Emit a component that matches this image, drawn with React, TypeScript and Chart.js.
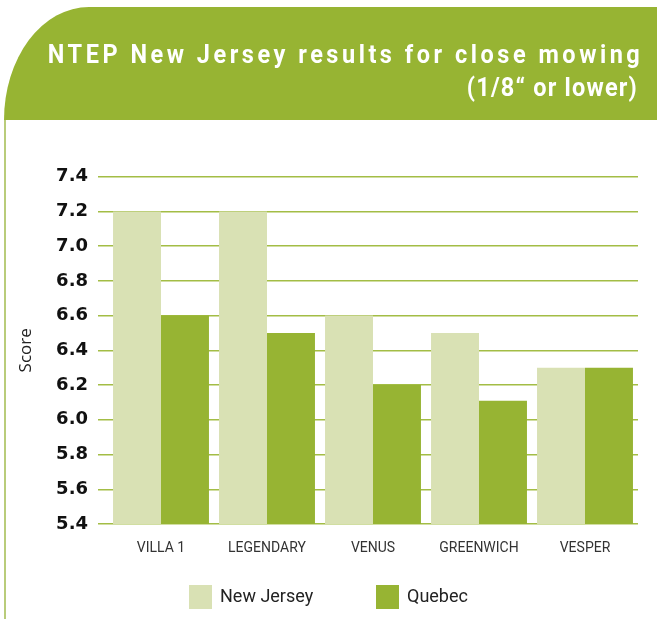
import React, { useEffect, useRef } from "react";
import { Chart, registerables } from "chart.js";

Chart.register(...registerables);

const categories = ["VILLA 1", "LEGENDARY", "VENUS", "GREENWICH", "VESPER"];
const seriesNames = ["New Jersey", "Quebec"];
const newJersey = [7.2, 7.2, 6.6, 6.5, 6.3];
const quebec = [6.6, 6.5, 6.2, 6.11, 6.3];
const yMin = 5.4;
const yMax = 7.4;
const yStep = 0.2;
const titleLine1 = "NTEP New Jersey results for close mowing";
const titleLine2 = "(1/8“ or lower)";
const axisTitle = "Score";

const GREEN = "#97b433";
const LIGHT = "#d9e1b4";
const seriesColors = [LIGHT, GREEN];

const TITLE_SCALE = 0.94;

function spacingFor(text: string, font: string, target: number): number {
  try {
    const ctx = document.createElement("canvas").getContext("2d");
    if (!ctx) return 2;
    ctx.font = font;
    const w = ctx.measureText(text).width;
    return (target - w) / (text.length - 1);
  } catch (e) {
    return 2;
  }
}

function TitleLine(props: { text: string; top: number; right: number; width: number }) {
  const font = `bold 25px Roboto`;
  const s = spacingFor(props.text, font, props.width / TITLE_SCALE);
  return (
    <div
      style={{
        position: "absolute",
        top: props.top,
        right: props.right,
        font,
        lineHeight: "24px",
        color: "#ffffff",
        whiteSpace: "nowrap",
        textAlign: "right",
        transform: `scaleX(${TITLE_SCALE})`,
        transformOrigin: "right center",
      }}
    >
      <span style={{ letterSpacing: `${s}px`, marginRight: `${-s}px` }}>{props.text}</span>
    </div>
  );
}

const legendLefts = [189, 376];

export default function App() {
  const ref = useRef<HTMLCanvasElement | null>(null);

  useEffect(() => {
    if (!ref.current) return;
    const chart = new Chart(ref.current, {
      type: "bar",
      data: {
        labels: categories,
        datasets: [
          {
            label: seriesNames[0],
            data: newJersey,
            backgroundColor: seriesColors[0],
            borderWidth: 0,
            categoryPercentage: 0.905,
            barPercentage: 1,
          },
          {
            label: seriesNames[1],
            data: quebec,
            backgroundColor: seriesColors[1],
            borderWidth: 0,
            categoryPercentage: 0.905,
            barPercentage: 1,
          },
        ],
      },
      options: {
        responsive: false,
        animation: false,
        layout: { padding: { left: 16, right: 19, top: 176.7, bottom: 54.2 } },
        plugins: {
          tooltip: { enabled: false },
          title: { display: false },
          legend: { display: false },
        },
        scales: {
          x: {
            grid: { display: false },
            border: { display: false },
            ticks: {
              color: "#333333",
              font: { family: "Roboto", size: 14 },
              padding: 8,
              maxRotation: 0,
            },
          },
          y: {
            min: yMin,
            max: yMax,
            ticks: {
              stepSize: yStep,
              color: "#111111",
              font: { family: "'DejaVu Sans'", size: 18, weight: "bold" },
              padding: 10,
              callback: (v: any) => Number(v).toFixed(1),
            },
            grid: { color: "#a3bd45", lineWidth: 1.5, tickLength: 10, drawTicks: true },
            border: { display: false },
            title: {
              display: true,
              text: axisTitle,
              color: "#222222",
              font: { family: "'Open Sans'", size: 17 },
              padding: 0,
            },
            afterFit: (s: any) => {
              s.width = 92;
            },
          },
        },
      },
    });
    return () => chart.destroy();
  }, []);

  return (
    <div
      style={{
        position: "fixed",
        left: 0,
        top: 0,
        width: 657,
        height: 619,
        background: "#ffffff",
        overflow: "hidden",
      }}
    >
      <canvas ref={ref} width={657} height={619} style={{ position: "absolute", left: 0, top: 0, width: 657, height: 619 }} />
      <div
        style={{
          position: "absolute",
          left: 4,
          top: 7,
          width: 653,
          height: 113,
          background: GREEN,
          borderTopLeftRadius: "85px 113px",
        }}
      />
      <div style={{ position: "absolute", left: 4, top: 120, width: 1.5, height: 499, background: "#b9cc7a" }} />
      <TitleLine text={titleLine1} top={43} right={17} width={592} />
      <TitleLine text={titleLine2} top={76} right={20} width={170} />
      {seriesNames.map((name, i) => (
        <div key={name}>
          <div
            style={{
              position: "absolute",
              left: legendLefts[i],
              top: 584.5,
              width: 23,
              height: 24,
              background: seriesColors[i],
            }}
          />
          <div
            style={{
              position: "absolute",
              left: legendLefts[i] + 31,
              top: 584.5,
              height: 24,
              lineHeight: "24px",
              font: "18px Roboto",
              color: "#222222",
              whiteSpace: "nowrap",
            }}
          >
            {name}
          </div>
        </div>
      ))}
    </div>
  );
}
